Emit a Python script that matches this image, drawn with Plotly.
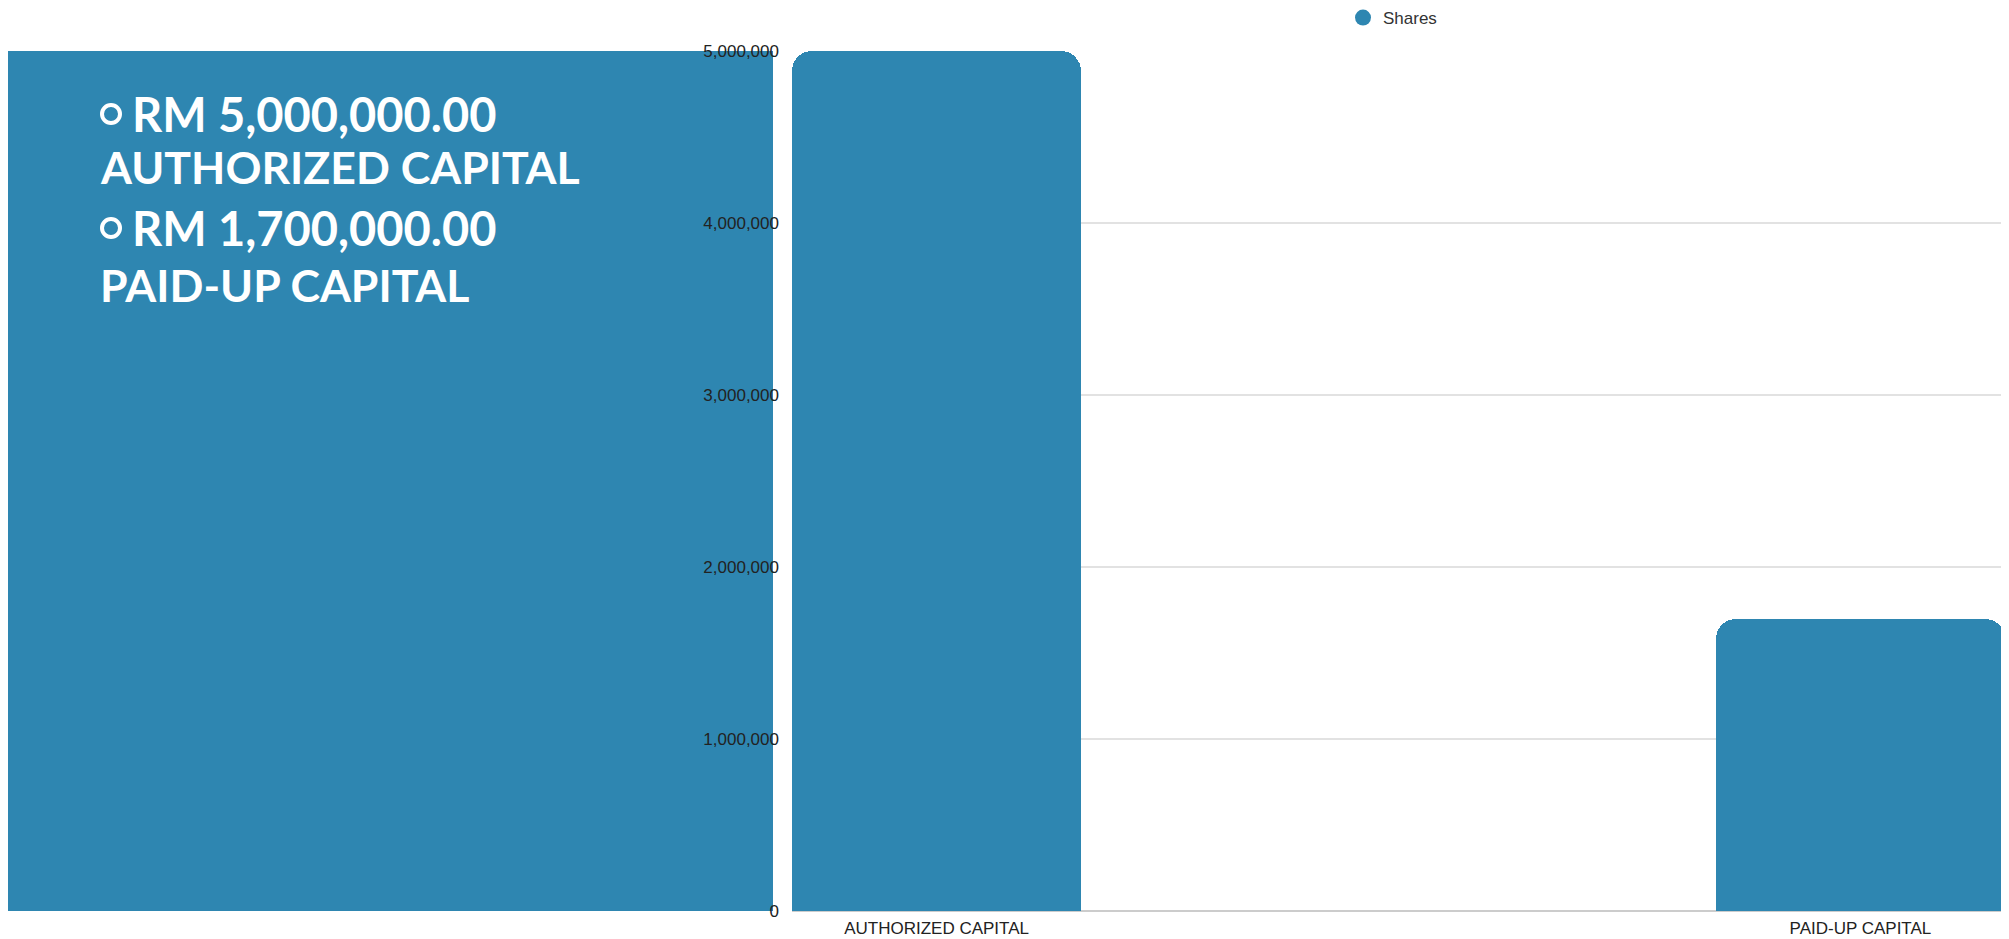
import plotly.graph_objects as go

# ---- data ----
categories = ["AUTHORIZED CAPITAL", "PAID-UP CAPITAL"]
shares = [5000000, 1700000]
series_name = "Shares"
y_tick_values = [0, 1000000, 2000000, 3000000, 4000000, 5000000]
y_tick_labels = ["0", "1,000,000", "2,000,000", "3,000,000", "4,000,000", "5,000,000"]
panel_lines = ["RM 5,000,000.00", "AUTHORIZED CAPITAL", "RM 1,700,000.00", "PAID-UP CAPITAL"]
panel_bullets = [True, False, True, False]

# ---- styling / layout ----
OFF = 8  # page body margin in the browser
W, H = 2009 - OFF, 939 - OFF
L, R, T, B = 792 - OFF, 2005 - OFF, 51 - OFF, 911 - OFF
BLUE = "#2E86B1"

def px_x(px):  # px given in screenshot coordinates
    return (px - OFF - L) / (R - L)

def px_y(py):
    return (B - (py - OFF)) / (B - T)

bar_width = 0.313

fig = go.Figure()
fig.add_trace(go.Bar(
    x=categories, y=shares, name=series_name,
    marker=dict(color=BLUE, cornerradius=20, line=dict(width=0)),
    width=bar_width, showlegend=False, hoverinfo="x+y",
))
fig.add_trace(go.Scatter(
    x=[None], y=[None], mode="markers", name=series_name,
    marker=dict(color=BLUE, size=16, symbol="circle"),
    showlegend=True,
))

shapes = [
    dict(type="rect", xref="paper", yref="paper",
         x0=px_x(8), x1=px_x(773), y0=px_y(911), y1=px_y(51),
         fillcolor=BLUE, line=dict(width=0), layer="below"),
]

line_x_bullet = 130
line_x_plain = 98
line_centers = [113.5, 166.5, 227.5, 284.5]
bullet_centers = [114, None, 228, None]
line_sizes = [47, 44.6, 47, 44.6]
annotations = []
for text, bullet, cy, by, fs in zip(panel_lines, panel_bullets, line_centers, bullet_centers, line_sizes):
    annotations.append(dict(
        xref="paper", yref="paper",
        x=px_x(line_x_bullet if bullet else line_x_plain), y=px_y(cy),
        xanchor="left", yanchor="middle", showarrow=False,
        text=text,
        font=dict(family="Lato", size=fs, color="white", weight="bold"),
    ))
    if bullet:
        cx, r = 111, 9
        shapes.append(dict(type="circle", xref="paper", yref="paper",
                           x0=px_x(cx - r), x1=px_x(cx + r),
                           y0=px_y(by + r), y1=px_y(by - r),
                           line=dict(color="white", width=4), fillcolor="rgba(0,0,0,0)",
                           layer="above"))

fig.update_layout(
    width=W, height=H,
    margin=dict(l=L, r=W - R, t=T, b=H - B, autoexpand=False),
    paper_bgcolor="white", plot_bgcolor="white",
    shapes=shapes, annotations=annotations,
    showlegend=True,
    legend=dict(orientation="h", x=px_x(1343), y=px_y(18), xanchor="left", yanchor="middle",
                font=dict(family="Liberation Sans, Arial", size=17, color="#333333"),
                itemsizing="trace", bgcolor="rgba(0,0,0,0)"),
    bargap=0,
    xaxis=dict(
        type="category", range=[-bar_width / 2, 1 + bar_width / 2],
        showgrid=False, showline=False, zeroline=False, ticks="",
        tickfont=dict(family="Liberation Sans, Arial", size=17, color="#222222"),
        ticklabelstandoff=5, automargin=False,
    ),
    yaxis=dict(
        range=[0, 5000000], tickvals=y_tick_values, ticktext=y_tick_labels,
        showgrid=True, gridcolor="#e2e2e2", gridwidth=2,
        zeroline=True, zerolinecolor="#cccccc", zerolinewidth=2,
        showline=False, ticks="",
        tickfont=dict(family="Liberation Sans, Arial", size=17, color="#222222"),
        ticklabelstandoff=12, automargin=False,
    ),
)

fig.write_html("out.html")
